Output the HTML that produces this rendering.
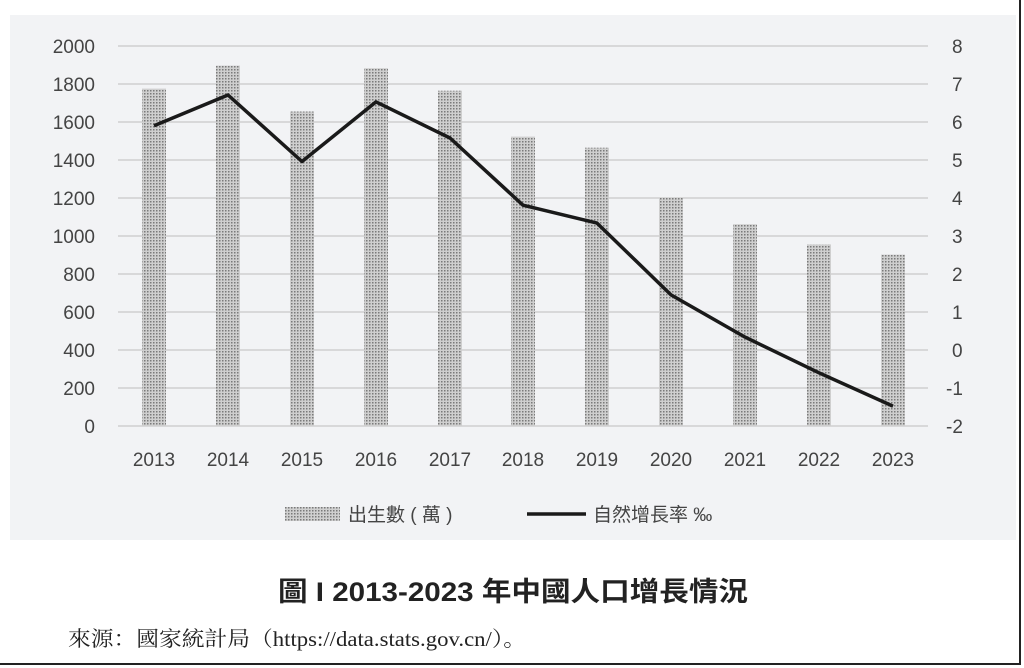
<!DOCTYPE html>
<html><head><meta charset="utf-8"><style>
body{margin:0;background:#fff;width:1024px;height:668px;overflow:hidden;position:relative;font-family:"Liberation Sans","Noto Sans CJK TC",sans-serif}
</style></head><body>
<svg width="1024" height="668" style="position:absolute;left:0;top:0">
<defs><pattern id="d" width="3" height="3" patternUnits="userSpaceOnUse"><rect width="3" height="3" fill="#cfcfcf"/><rect width="1.5" height="1.5" fill="#7a7a7a"/></pattern></defs>
<rect x="10" y="15" width="1006" height="525" fill="#f2f3f5"/>
<line x1="1020" y1="0" x2="1020" y2="664" stroke="#222" stroke-width="2"/>
<line x1="0" y1="664" x2="1021" y2="664" stroke="#222" stroke-width="2"/>
<g stroke="#d0d0d0" stroke-width="1.5">
<line x1="118" x2="928" y1="46" y2="46"/><line x1="118" x2="928" y1="84" y2="84"/><line x1="118" x2="928" y1="122" y2="122"/><line x1="118" x2="928" y1="160" y2="160"/><line x1="118" x2="928" y1="198" y2="198"/><line x1="118" x2="928" y1="236" y2="236"/><line x1="118" x2="928" y1="274" y2="274"/><line x1="118" x2="928" y1="312" y2="312"/><line x1="118" x2="928" y1="350" y2="350"/><line x1="118" x2="928" y1="388" y2="388"/><line x1="118" x2="928" y1="426" y2="426"/>
</g>
<g fill="url(#d)">
<rect x="142" y="88.6" width="24" height="337.4"/>
<rect x="216" y="65.6" width="24" height="360.4"/>
<rect x="290" y="111.5" width="24" height="314.5"/>
<rect x="364" y="68.2" width="24" height="357.8"/>
<rect x="438" y="90.7" width="24" height="335.3"/>
<rect x="511" y="136.6" width="24" height="289.4"/>
<rect x="585" y="147.7" width="24" height="278.3"/>
<rect x="659" y="197.6" width="24" height="228.4"/>
<rect x="733" y="224.2" width="24" height="201.8"/>
<rect x="807" y="244.4" width="24" height="181.6"/>
<rect x="881" y="254.6" width="24" height="171.4"/>
</g>
<polyline fill="none" stroke="#1a1a1a" stroke-width="3.5" stroke-linejoin="round" points="154,125.8 228,95 302,161.5 376,101.9 450,138 523,205.2 597,223.1 671,294.9 745,337.1 819,372.8 893,406.2"/>
<g font-size="19" fill="#444" text-anchor="end">
<text x="95" y="53">2000</text><text x="95" y="91">1800</text><text x="95" y="129">1600</text><text x="95" y="167">1400</text><text x="95" y="205">1200</text><text x="95" y="243">1000</text><text x="95" y="281">800</text><text x="95" y="319">600</text><text x="95" y="357">400</text><text x="95" y="395">200</text><text x="95" y="433">0</text>
</g>
<g font-size="19" fill="#444">
<text x="952" y="53">8</text><text x="952" y="91">7</text><text x="952" y="129">6</text><text x="952" y="167">5</text><text x="952" y="205">4</text><text x="952" y="243">3</text><text x="952" y="281">2</text><text x="952" y="319">1</text><text x="952" y="357">0</text><text x="946" y="395">-1</text><text x="946" y="433">-2</text>
</g>
<g font-size="19" fill="#444" text-anchor="middle">
<text x="154" y="466">2013</text><text x="228" y="466">2014</text><text x="302" y="466">2015</text><text x="376" y="466">2016</text><text x="450" y="466">2017</text><text x="523" y="466">2018</text><text x="597" y="466">2019</text><text x="671" y="466">2020</text><text x="745" y="466">2021</text><text x="819" y="466">2022</text><text x="893" y="466">2023</text>
</g>
<rect x="285" y="507" width="55" height="14" fill="url(#d)"/>
<text x="348" y="521" font-size="19" fill="#444">出生數 ( 萬 )</text>
<line x1="527" y1="514" x2="586" y2="514" stroke="#1a1a1a" stroke-width="3.5"/>
<text x="593" y="521" font-size="19" fill="#444">自然增長率 ‰</text>
<text x="278" y="601" font-size="27" font-weight="bold" fill="#222" textLength="470" lengthAdjust="spacingAndGlyphs">圖 I  2013-2023 年中國人口增長情況</text>
<text x="68" y="646" font-size="21" fill="#222" font-family="Liberation Serif,Noto Serif CJK SC,serif" textLength="458" lengthAdjust="spacingAndGlyphs">來源：國家統計局（https://data.stats.gov.cn/）。</text>
</svg>
</body></html>
